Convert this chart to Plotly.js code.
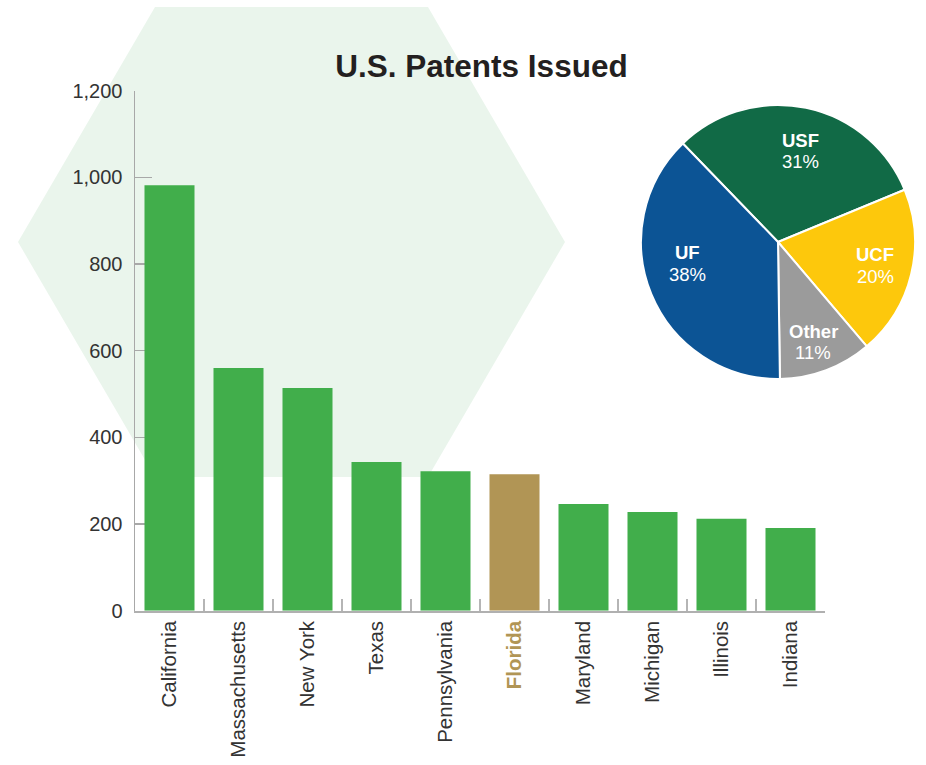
<!DOCTYPE html>
<html>
<head>
<meta charset="utf-8">
<script src="https://cdn.plot.ly/plotly-3.0.1.min.js"></script>
<style>
  html, body { margin: 0; padding: 0; background: #ffffff; }
  #chart { width: 926px; height: 765px; }
</style>
</head>
<body>
<div id="chart"></div>
<script>
// ---- data ----
const states = ["California", "Massachusetts", "New York", "Texas", "Pennsylvania",
                "Florida", "Maryland", "Michigan", "Illinois", "Indiana"];
const patents = [982, 560, 514, 343, 322, 315, 246, 228, 212, 191];
const highlightState = "Florida";

const pieLabels = ["USF", "UCF", "Other", "UF"];
const pieShares = [31, 20, 11, 38];

const yTicks = [0, 200, 400, 600, 800, 1000, 1200];

// ---- styles ----
const GREEN = "#41ae4b";
const GOLD = "#b19555";
const pieColors = ["#116a46", "#fdc80c", "#9b9b9b", "#0c5495"];
const FONT = "Liberation Sans, Arial, Helvetica, sans-serif";
// label anchor points (pixel centres) for the pie slice captions
const pieLabelPos = [[800, 151], [875, 265.5], [813, 342], [687, 263.5]];

const barColors = states.map(s => s === highlightState ? GOLD : GREEN);
const tickText = states.map(s => s === highlightState
  ? '<span style="color:' + GOLD + '"><b>' + s + '</b></span>' : s);

const W = 926, H = 765;
const px = x => x / W, py = y => 1 - y / H;

const barTrace = {
  type: "bar",
  x: states,
  y: patents,
  marker: { color: barColors, line: { width: 0 } },
  hoverinfo: "x+y",
  xaxis: "x", yaxis: "y"
};

const pieTrace = {
  type: "pie",
  labels: pieLabels,
  values: pieShares,
  sort: false,
  direction: "clockwise",
  rotation: -44,
  marker: { colors: pieColors, line: { color: "#ffffff", width: 2 } },
  textinfo: "none",
  showlegend: false,
  domain: { x: [px(641), px(915)], y: [py(380), py(104)] }
};

const annotations = [];
pieLabels.forEach((lab, i) => {
  const [cx, cy] = pieLabelPos[i];
  annotations.push({
    xref: "paper", yref: "paper", x: px(cx), y: py(cy - 10.5),
    xanchor: "center", yanchor: "middle", showarrow: false,
    text: "<b>" + lab + "</b>",
    font: { family: FONT, size: 18.5, color: "#ffffff" }
  });
  annotations.push({
    xref: "paper", yref: "paper", x: px(cx), y: py(cy + 10.5),
    xanchor: "center", yanchor: "middle", showarrow: false,
    text: pieShares[i] + "%",
    font: { family: FONT, size: 18.5, color: "#ffffff" }
  });
});

const hexPath = "M " + px(155) + " " + py(7) +
  " L " + px(428) + " " + py(7) +
  " L " + px(565) + " " + py(242) +
  " L " + px(428) + " " + py(477) +
  " L " + px(155) + " " + py(477) +
  " L " + px(18) + " " + py(242) + " Z";

const layout = {
  width: W, height: H,
  margin: { l: 0, r: 0, t: 0, b: 0 },
  paper_bgcolor: "#ffffff",
  plot_bgcolor: "rgba(0,0,0,0)",
  showlegend: false,
  font: { family: FONT, color: "#333333" },
  title: {
    text: "<b>U.S. Patents Issued</b>",
    font: { family: FONT, size: 31.5, color: "#231f20" },
    x: px(481.5), xanchor: "center", xref: "container",
    y: py(66), yanchor: "middle", yref: "container"
  },
  bargap: 0.275,
  xaxis: {
    domain: [px(135), px(825)],
    type: "category",
    tickmode: "array",
    tickvals: states,
    ticktext: tickText,
    tickangle: -90,
    tickson: "boundaries",
    ticks: "inside",
    ticklen: 12,
    tickwidth: 1.5,
    tickcolor: "#b5b5b5",
    showline: true,
    linecolor: "#b0b0b0",
    linewidth: 2,
    showgrid: false,
    zeroline: false,
    tickfont: { family: FONT, size: 20.5, color: "#333333" },
    layer: "below traces",
    fixedrange: true
  },
  yaxis: {
    domain: [py(610.7), py(90.7)],
    range: [0, 1200],
    tickmode: "array",
    tickvals: yTicks,
    tickformat: ",",
    ticks: "inside",
    ticklen: 17,
    tickwidth: 1.5,
    tickcolor: "#a8a8a8",
    showline: true,
    linecolor: "#a8a8a8",
    linewidth: 1.5,
    showgrid: false,
    zeroline: false,
    tickfont: { family: FONT, size: 20, color: "#333333" },
    ticklabelstandoff: 7,
    layer: "below traces",
    fixedrange: true
  },
  annotations: annotations,
  shapes: [{
    type: "path",
    xref: "paper", yref: "paper",
    path: hexPath,
    fillcolor: "#eaf5ec",
    line: { width: 0 },
    layer: "below"
  }]
};

Plotly.newPlot("chart", [barTrace, pieTrace], layout, { displayModeBar: false, staticPlot: true });
</script>
</body>
</html>
